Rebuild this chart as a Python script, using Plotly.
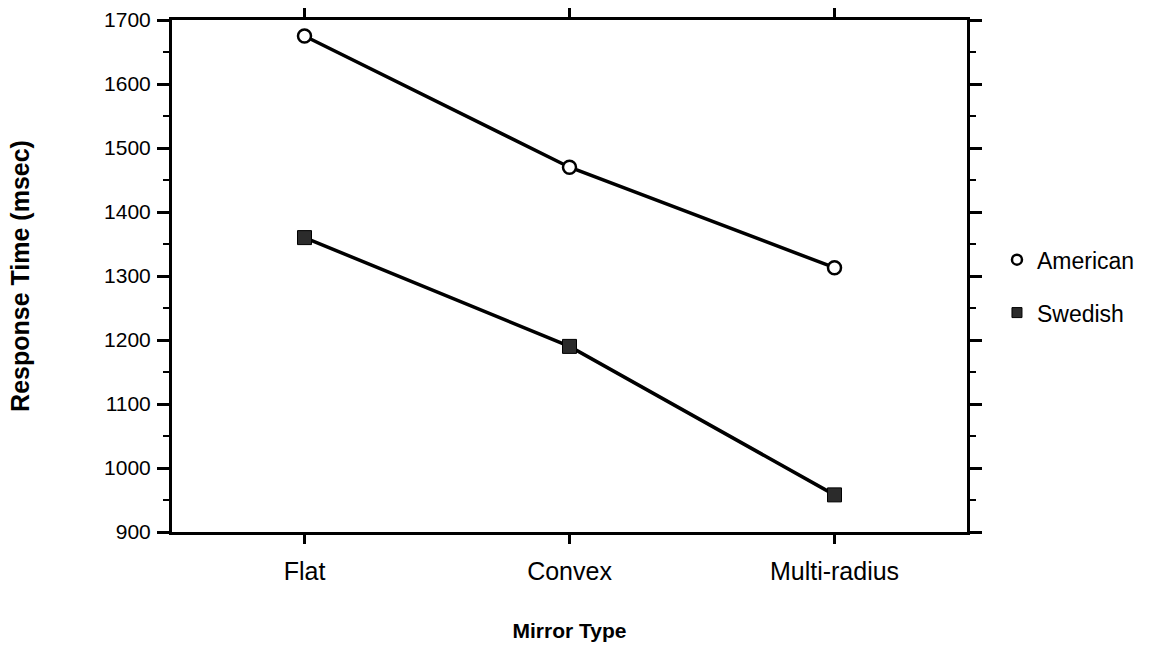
import plotly.graph_objects as go

mirror_types = ["Flat", "Convex", "Multi-radius"]
american = [1675, 1470, 1313]
swedish = [1360, 1190, 958]
y_ticks = [900, 1000, 1100, 1200, 1300, 1400, 1500, 1600, 1700]

FONT = "Liberation Sans, Arial, Helvetica, sans-serif"
x_pos = list(range(len(mirror_types)))

circle_marker = dict(symbol="circle", size=13, color="white",
                     line=dict(color="black", width=2.5))
square_marker = dict(symbol="square", size=14, color="#2b2b2b",
                     line=dict(color="black", width=1))

fig = go.Figure()
fig.add_trace(go.Scatter(
    x=x_pos, y=american, name="American", mode="lines+markers",
    showlegend=False, line=dict(color="black", width=3.5),
    marker=circle_marker,
))
fig.add_trace(go.Scatter(
    x=x_pos, y=swedish, name="Swedish", mode="lines+markers",
    showlegend=False, line=dict(color="black", width=3.5),
    marker=square_marker,
))
# marker-only legend entries
fig.add_trace(go.Scatter(
    x=[None], y=[None], name="American", mode="markers",
    legendgroup="a",
    marker=dict(symbol="circle", size=10, color="white",
                line=dict(color="black", width=2.5)),
))
fig.add_trace(go.Scatter(
    x=[None], y=[None], name="Swedish", mode="markers",
    legendgroup="s",
    marker=dict(symbol="square", size=10, color="#2b2b2b",
                line=dict(color="black", width=1)),
))

fig.update_layout(
    width=1154, height=651,
    margin=dict(l=172, r=187, t=20, b=119),
    paper_bgcolor="white", plot_bgcolor="white",
    font=dict(family=FONT, size=21, color="black"),
    showlegend=True,
    legend=dict(x=1.0377, y=0.48, xanchor="left", yanchor="middle",
                traceorder="grouped", tracegroupgap=20,
                font=dict(size=23), itemwidth=30),
    xaxis=dict(
        range=[-0.5, 2.5], tickmode="array", tickvals=x_pos,
        ticktext=mirror_types, showgrid=False, zeroline=False,
        automargin=False,
        showline=True, linecolor="black", linewidth=3, mirror="ticks",
        ticks="outside", ticklen=9, tickwidth=3, tickcolor="black",
        ticklabelstandoff=6, tickfont=dict(size=25),
        title=dict(text="<b>Mirror Type</b>", standoff=40,
                   font=dict(size=21)),
    ),
    yaxis=dict(
        range=[900, 1700], tickmode="array", tickvals=y_ticks,
        showgrid=False, zeroline=False, automargin=False,
        showline=True, linecolor="black", linewidth=3, mirror="ticks",
        ticks="outside", ticklen=12, tickwidth=3, tickcolor="black",
        ticklabelstandoff=2, tickfont=dict(size=21),
        minor=dict(ticks="outside", ticklen=6, tickwidth=2,
                   tickcolor="black", dtick=50, showgrid=False),
        title=dict(text="<b>Response Time (msec)</b>", standoff=68,
                   font=dict(size=25)),
    ),
)

fig.write_html("out.html")
